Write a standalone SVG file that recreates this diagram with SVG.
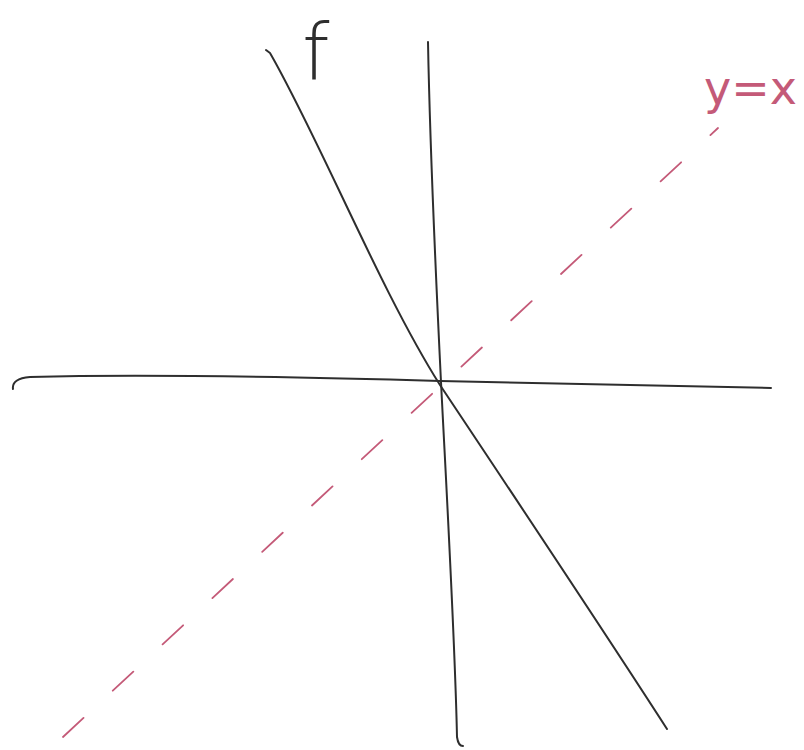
<svg xmlns="http://www.w3.org/2000/svg" width="804" height="750" viewBox="0 0 804 750">
<style>
.ink{fill:none;stroke:#2e2e2e;stroke-width:2;stroke-linecap:round;stroke-linejoin:round}
.pink{fill:none;stroke:#c45a78;stroke-width:1.8;stroke-linecap:round}
.lbl{font-family:"DejaVu Sans","Liberation Sans",sans-serif}
</style>
<rect width="804" height="750" fill="#ffffff"/>
<g id="connectors">
<path id="x-axis" class="ink" d="M13,389 C12,382 18,378 30,377 C150,374 300,377 440,381 C560,384 680,386 771,388"/>
<path id="y-axis" class="ink" d="M428,42 C430,150 436,280 441,382 C447,500 455,640 457,737 C458,744 460,746 463,746"/>
<path id="f-line" class="ink" d="M266,50 L270,53 C320,140 380,290 440,385 C520,505 600,625 667,729"/>
<path id="y-eq-x" class="pink" stroke-dasharray="28 40" d="M63,737 L718,128"/>
</g>
<g id="label-f">
<text class="lbl" x="302" y="80" font-size="78" font-weight="300" fill="#2e2e2e">f</text>
</g>
<g id="label-yx">
<text class="lbl" x="704" y="104" font-size="46" fill="#c45a78">y=x</text>
</g>
</svg>
